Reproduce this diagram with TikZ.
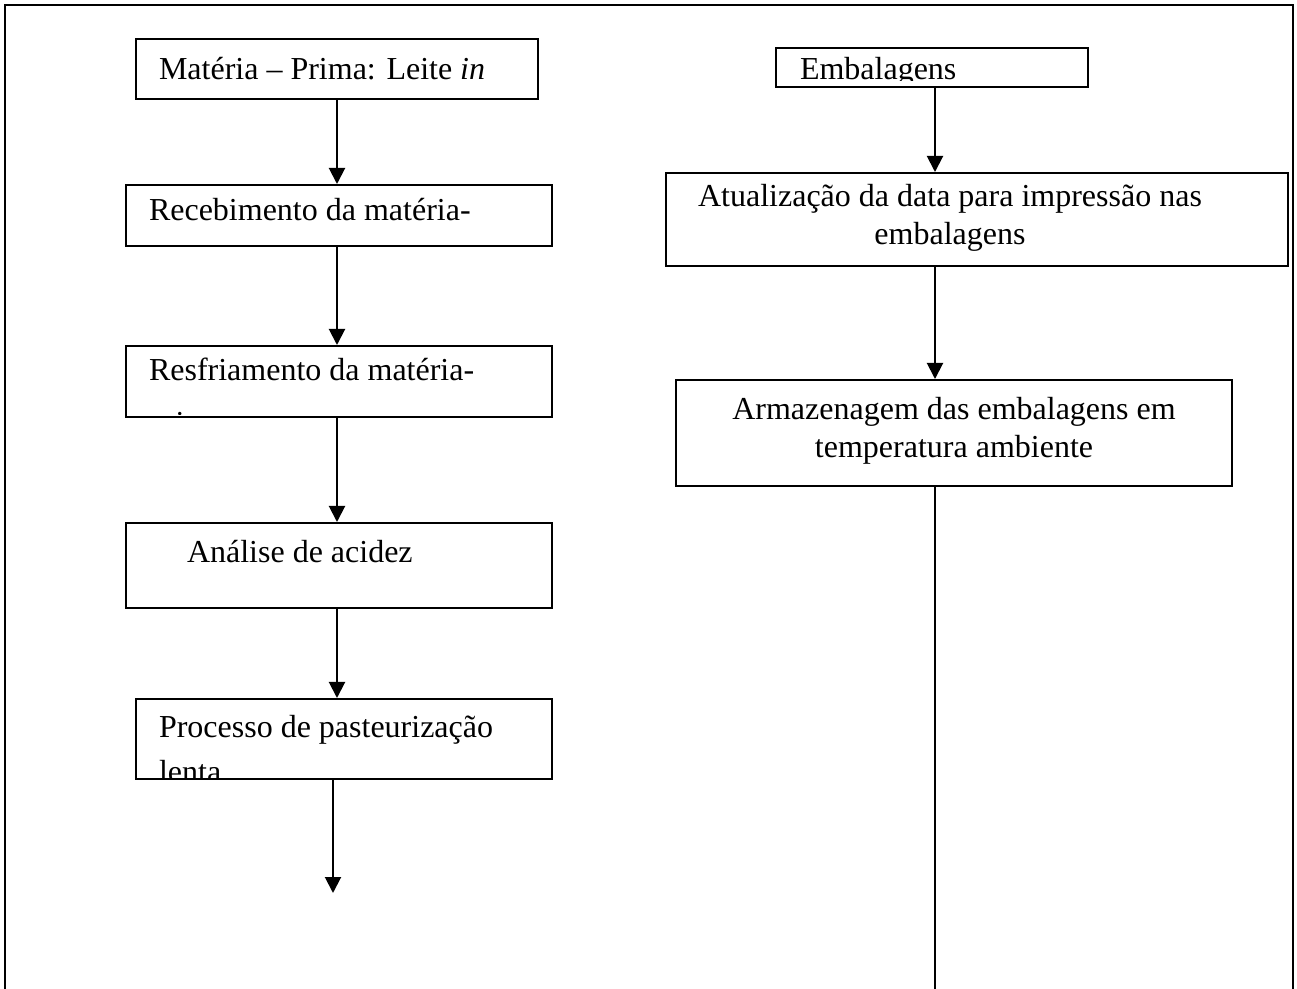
\documentclass[tikz,border=0pt]{standalone}
\usepackage{fontspec}
\setmainfont{Liberation Serif}
\usetikzlibrary{arrows.meta}

\newcommand{\fonte}{\fontsize{16}{19}\selectfont}
% texto dentro da caixa, recortado (path picture)
\newcommand{\txt}[3]{\node[anchor=base west, draw=none, inner sep=0pt, minimum width=0pt, minimum height=0pt, font=\fonte] at ([xshift=#1pt,yshift=-#2pt]path picture bounding box.north west) {#3};}
\newcommand{\txtc}[3]{\node[anchor=base, draw=none, inner sep=0pt, minimum width=0pt, minimum height=0pt, font=\fonte] at ([xshift=#1pt,yshift=-#2pt]path picture bounding box.north west) {#3};}
\newcommand{\corte}[1]{\clip (path picture bounding box.north west) rectangle ([yshift=#1pt]path picture bounding box.south east);}

\tikzset{
	caixa/.style={draw, line width=1pt, rectangle, inner sep=0pt, anchor=north west},
	seta/.style={line width=1pt, -{Triangle[length=8pt,width=8pt]}},
	linha/.style={line width=1pt}
}

\begin{document}
\begin{tikzpicture}[x=0.5pt, y=-0.5pt]
	\useasboundingbox (0,0) rectangle (1297,989);
	\draw[linha] (5,989) -- (5,5) -- (1293,5) -- (1293,989);

	% coluna da esquerda
	\node (Materia) [caixa, minimum width=201pt, minimum height=30pt,
		path picture={\txt{11}{20.5}{Matéria – Prima: Leite \textit{in}}}] at (135,38) {};

	\node (Recebimento) [caixa, minimum width=213pt, minimum height=30.5pt,
		path picture={\txt{11}{18}{Recebimento da matéria-}}] at (125,184) {};
	\draw[seta] (Materia.south) -- (Materia.south |- Recebimento.north);

	\node (Resfriamento) [caixa, minimum width=213pt, minimum height=35.5pt,
		path picture={\corte{1}\txt{11}{17.5}{Resfriamento da matéria-}\txt{11}{44}{prima}}] at (125,345) {};
	\draw[seta] (Recebimento.south -| Materia.south) -- (Materia.south |- Resfriamento.north);

	\node (Analise) [caixa, minimum width=213pt, minimum height=42.5pt,
		path picture={\txt{30}{20}{Análise de acidez}}] at (125,522) {};
	\draw[seta] (Resfriamento.south -| Materia.south) -- (Materia.south |- Analise.north);

	\node (Pasteurizacao) [caixa, minimum width=208pt, minimum height=40pt,
		path picture={\corte{1}\txt{11}{19}{Processo de pasteurização}\txt{11}{41.5}{lenta}}] at (135,698) {};
	\draw[seta] (Analise.south -| Materia.south) -- (Materia.south |- Pasteurizacao.north);

	\coordinate (Fim) at (333,893);
	\draw[seta] (Pasteurizacao.south -| Fim) -- (Fim);

	% coluna da direita
	\coordinate (Base) at (935,989);

	\node (Embalagens) [caixa, minimum width=156pt, minimum height=19.5pt,
		path picture={\corte{3}\txt{11.5}{16}{Embalagens}}] at (775,47) {};

	\node (Atualizacao) [caixa, minimum width=311pt, minimum height=46.5pt,
		path picture={\txtc{142}{17}{Atualização da data para impressão nas}\txtc{142}{36}{embalagens}}] at (665,172) {};
	\draw[seta] (Embalagens.south -| Base) -- (Atualizacao.north -| Base);

	\node (Armazenagem) [caixa, minimum width=278pt, minimum height=53pt,
		path picture={\txtc{139}{20}{Armazenagem das embalagens em}\txtc{139}{39}{temperatura ambiente}}] at (675,379) {};
	\draw[seta] (Atualizacao.south -| Base) -- (Armazenagem.north -| Base);

	\draw[linha] (Armazenagem.south -| Base) -- (Base);
\end{tikzpicture}
\end{document}
